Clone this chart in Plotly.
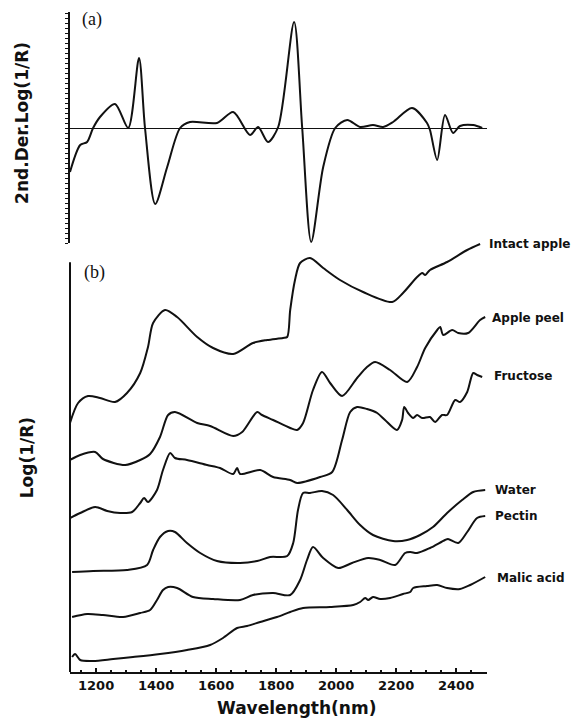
import plotly.graph_objects as go

# ---------------- data (wavelength nm, arbitrary units) ----------------
der_wl = [1113, 1147, 1170, 1190, 1213, 1263, 1307, 1343, 1363, 1397, 1437, 1480, 1513,
          1603, 1657, 1713, 1740, 1773, 1807, 1860, 1887, 1917, 1957, 1997, 2037, 2080,
          2123, 2157, 2190, 2253, 2303, 2313, 2337, 2363, 2390, 2413, 2457, 2487]
der_val = [-0.44, -0.17, -0.14, 0.00, 0.11, 0.24, 0.00, 0.70, 0.00, -0.76, -0.39, 0.00, 0.06,
           0.05, 0.16, -0.07, 0.01, -0.14, 0.01, 1.06, 0.00, -1.14, -0.39, 0.00, 0.08, 0.01,
           0.03, 0.01, 0.06, 0.20, 0.05, -0.02, -0.32, 0.13, -0.05, 0.02, 0.03, 0.00]

intact_wl = [1113, 1140, 1173, 1213, 1263, 1303, 1347, 1373, 1390, 1430, 1470, 1537, 1590,
             1657, 1723, 1770, 1823, 1837, 1847, 1863, 1880, 1913, 1957, 2013, 2090, 2187,
             2223, 2270, 2287, 2297, 2313, 2370, 2437, 2480]
intact_val = [2.49, 2.69, 2.76, 2.74, 2.70, 2.79, 2.99, 3.25, 3.49, 3.62, 3.55, 3.35, 3.24,
              3.18, 3.29, 3.32, 3.34, 3.35, 3.62, 3.92, 4.09, 4.14, 4.04, 3.92, 3.80, 3.70,
              3.79, 3.95, 3.99, 3.97, 4.02, 4.10, 4.22, 4.28]

peel_wl = [1113, 1147, 1197, 1223, 1297, 1347, 1380, 1413, 1440, 1463, 1537, 1580, 1657,
           1687, 1737, 1753, 1790, 1847, 1870, 1890, 1923, 1953, 1980, 2020, 2070, 2103,
           2130, 2180, 2237, 2270, 2297, 2337, 2347, 2357, 2387, 2407, 2440, 2480, 2497]
peel_val = [2.12, 2.17, 2.20, 2.13, 2.07, 2.12, 2.18, 2.35, 2.57, 2.60, 2.49, 2.46, 2.36,
            2.40, 2.60, 2.57, 2.52, 2.44, 2.42, 2.49, 2.82, 3.00, 2.89, 2.76, 2.94, 3.05,
            3.10, 3.02, 2.90, 3.05, 3.24, 3.42, 3.45, 3.37, 3.42, 3.39, 3.39, 3.52, 3.55]

fruc_wl = [1113, 1147, 1197, 1237, 1280, 1320, 1347, 1360, 1373, 1403, 1423, 1447, 1463,
           1503, 1570, 1613, 1657, 1670, 1680, 1747, 1790, 1847, 1870, 1947, 1987, 2020,
           2047, 2070, 2103, 2137, 2163, 2203, 2220, 2227, 2240, 2257, 2270, 2287, 2313,
           2330, 2353, 2370, 2397, 2413, 2437, 2457, 2470, 2487]
fruc_val = [1.54, 1.59, 1.65, 1.61, 1.59, 1.60, 1.69, 1.74, 1.70, 1.82, 2.02, 2.19, 2.14,
            2.12, 2.07, 2.04, 1.98, 2.04, 1.98, 2.02, 1.95, 1.92, 1.89, 1.95, 2.00, 2.32,
            2.60, 2.65, 2.63, 2.59, 2.52, 2.42, 2.52, 2.65, 2.59, 2.54, 2.57, 2.54, 2.55,
            2.50, 2.57, 2.57, 2.72, 2.70, 2.80, 2.99, 2.97, 2.95]

water_wl = [1120, 1190, 1303, 1370, 1390, 1413, 1440, 1463, 1503, 1547, 1603, 1680, 1737,
            1780, 1837, 1857, 1873, 1890, 1913, 1953, 1990, 2037, 2080, 2123, 2190, 2237,
            2280, 2323, 2370, 2420, 2457, 2497]
water_val = [1.00, 1.01, 1.02, 1.07, 1.22, 1.35, 1.41, 1.40, 1.29, 1.19, 1.11, 1.09, 1.11,
             1.15, 1.16, 1.29, 1.62, 1.79, 1.79, 1.81, 1.77, 1.62, 1.47, 1.37, 1.31, 1.32,
             1.37, 1.45, 1.59, 1.72, 1.80, 1.82]

pectin_wl = [1120, 1170, 1223, 1290, 1347, 1380, 1403, 1423, 1440, 1470, 1523, 1590, 1680,
             1723, 1790, 1847, 1880, 1903, 1923, 1957, 2007, 2053, 2107, 2147, 2197, 2230,
             2247, 2270, 2313, 2363, 2373, 2407, 2437, 2470, 2497]
pectin_val = [0.55, 0.58, 0.57, 0.55, 0.59, 0.62, 0.72, 0.82, 0.85, 0.84, 0.75, 0.73, 0.72,
              0.77, 0.79, 0.77, 0.92, 1.12, 1.25, 1.14, 1.04, 1.09, 1.14, 1.12, 1.07, 1.19,
              1.20, 1.19, 1.24, 1.32, 1.33, 1.29, 1.40, 1.54, 1.56]

malic_wl = [1120, 1130, 1147, 1190, 1257, 1323, 1413, 1503, 1580, 1623, 1670, 1703, 1747,
            1803, 1847, 1890, 1980, 2057, 2080, 2097, 2107, 2123, 2147, 2180, 2223, 2247,
            2257, 2303, 2337, 2370, 2413, 2447, 2497]
malic_val = [0.15, 0.18, 0.12, 0.11, 0.13, 0.15, 0.18, 0.22, 0.27, 0.34, 0.44, 0.46, 0.50,
             0.55, 0.60, 0.64, 0.65, 0.67, 0.70, 0.74, 0.72, 0.75, 0.73, 0.74, 0.78, 0.80,
             0.84, 0.86, 0.87, 0.84, 0.83, 0.87, 0.95]

series_names = ["Intact apple", "Apple peel", "Fructose", "Water", "Pectin", "Malic acid"]
series_wl = [intact_wl, peel_wl, fruc_wl, water_wl, pectin_wl, malic_wl]
series_val = [intact_val, peel_val, fruc_val, water_val, pectin_val, malic_val]
label_y = [4.28, 3.54, 2.96, 1.82, 1.56, 0.94]

x_ticks = [1200, 1400, 1600, 1800, 2000, 2200, 2400]

# ---------------- figure ----------------
INK = "#111111"
SANS = "DejaVu Sans"
fig = go.Figure()

fig.add_trace(go.Scatter(x=der_wl, y=der_val, xaxis="x", yaxis="y",
                         mode="lines", line=dict(color=INK, width=2, shape="spline", smoothing=0.8),
                         showlegend=False, hoverinfo="skip"))

label_dx = [1.0, 1.007, 1.012, 1.014, 1.014, 1.019]
annotations = []
for name, wl, val, ly, lx in zip(series_names, series_wl, series_val, label_y, label_dx):
    fig.add_trace(go.Scatter(x=wl, y=val, xaxis="x", yaxis="y2", mode="lines", name=name,
                             line=dict(color=INK, width=2, shape="spline", smoothing=0.8),
                             showlegend=False, hoverinfo="skip"))
    annotations.append(dict(x=lx, y=ly, xref="paper", yref="y2", text=f"<b>{name}</b>",
                            showarrow=False, xanchor="left", yanchor="middle",
                            font=dict(family=SANS, size=12, color=INK)))

annotations += [
    dict(x=0.024, y=0.988, xref="paper", yref="paper", text="(a)", showarrow=False,
         xanchor="left", yanchor="middle", font=dict(family="Liberation Serif", size=18, color=INK)),
    dict(x=0.029, y=0.606, xref="paper", yref="paper", text="(b)", showarrow=False,
         xanchor="left", yanchor="middle", font=dict(family="Liberation Serif", size=18, color=INK)),
    dict(x=-0.115, y=0.832, xref="paper", yref="paper", text="<b>2nd.Der.Log(1/R)</b>",
         textangle=-90, showarrow=False, xanchor="center", yanchor="middle",
         font=dict(family=SANS, size=17, color=INK)),
    dict(x=-0.103, y=0.324, xref="paper", yref="paper", text="<b>Log(1/R)</b>",
         textangle=-90, showarrow=False, xanchor="center", yanchor="middle",
         font=dict(family=SANS, size=17, color=INK)),
    dict(x=0.542, y=-0.0545, xref="paper", yref="paper", text="<b>Wavelength(nm)</b>",
         showarrow=False, xanchor="center", yanchor="middle",
         font=dict(family=SANS, size=17, color=INK)),
]

fig.update_layout(
    width=578, height=722,
    margin=dict(l=70, r=91, t=12, b=50),
    paper_bgcolor="white", plot_bgcolor="white",
    xaxis=dict(range=[1113, 2503], anchor="y2", showgrid=False, zeroline=False,
               showline=True, linecolor=INK, linewidth=2, mirror=False,
               tickmode="array", tickvals=x_ticks, ticktext=[f"<b>{t}</b>" for t in x_ticks],
               ticks="inside", ticklen=4, tickwidth=1.5, tickcolor=INK,
               minor=dict(ticks="inside", ticklen=2, dtick=50, tickcolor=INK),
               tickfont=dict(family=SANS, size=13, color=INK)),
    yaxis=dict(domain=[0.65, 1.0], range=[-1.15, 1.16], anchor="x",
               showgrid=False, zeroline=True, zerolinecolor=INK, zerolinewidth=1,
               showline=True, linecolor=INK, linewidth=2,
               ticks="outside", ticklen=3, tickwidth=1, tickcolor=INK, dtick=0.05,
               showticklabels=False),
    yaxis2=dict(domain=[0.0, 0.65], range=[0, 4.29], anchor="x",
                showgrid=False, zeroline=False, showline=False,
                ticks="", showticklabels=False),
    shapes=[dict(type="line", xref="paper", yref="paper", x0=0, x1=0, y0=0, y1=0.621,
                 line=dict(color=INK, width=2))],
    annotations=annotations,
)

fig.write_html("out.html")
